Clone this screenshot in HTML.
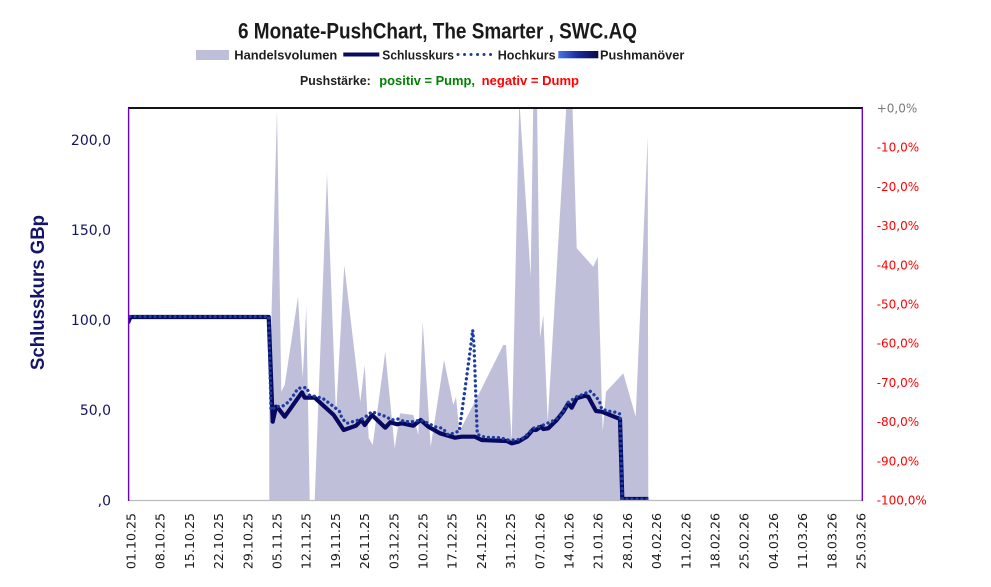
<!DOCTYPE html>
<html>
<head>
<meta charset="utf-8">
<style>
  html, body { margin:0; padding:0; background:#ffffff; }
  body { width:991px; height:587px; overflow:hidden; }
  svg { display:block; }
</style>
</head>
<body>
<svg width="991" height="587" viewBox="0 0 991 587" xmlns="http://www.w3.org/2000/svg">
  <defs>
    <linearGradient id="pg" x1="0" y1="0" x2="1" y2="0">
      <stop offset="0" stop-color="#4a74e6"/>
      <stop offset="0.5" stop-color="#1a2a9a"/>
      <stop offset="1" stop-color="#0a0a45"/>
    </linearGradient>
    <clipPath id="plot">
      <rect x="129" y="108" width="733" height="393"/>
    </clipPath>
  </defs>

  <rect x="0" y="0" width="991" height="587" fill="#ffffff"/>

  <!-- Title -->
  <text x="238" y="38.3" font-family="Liberation Sans, sans-serif" font-weight="bold" font-size="22" fill="#1a1a1a" textLength="399" lengthAdjust="spacingAndGlyphs">6 Monate-PushChart, The Smarter , SWC.AQ</text>

  <!-- Legend -->
  <g font-family="Liberation Sans, sans-serif" font-weight="bold" font-size="13" fill="#1f1f1f">
    <rect x="196" y="50" width="33" height="10" fill="#bfbfda"/>
    <text x="234.3" y="59.3" textLength="103" lengthAdjust="spacingAndGlyphs">Handelsvolumen</text>
    <line x1="343.3" y1="54.5" x2="379.3" y2="54.5" stroke="#0a0a60" stroke-width="4"/>
    <text x="382.3" y="59.3" textLength="71.7" lengthAdjust="spacingAndGlyphs">Schlusskurs</text>
    <line x1="458" y1="54.5" x2="493.3" y2="54.5" stroke="#1c3ca0" stroke-width="3" stroke-linecap="round" stroke-dasharray="0.01 6.5"/>
    <text x="497.7" y="59.3" textLength="58" lengthAdjust="spacingAndGlyphs">Hochkurs</text>
    <rect x="558.3" y="51" width="40" height="7.3" fill="url(#pg)"/>
    <text x="600" y="59.3" textLength="84.3" lengthAdjust="spacingAndGlyphs">Pushmanöver</text>
    <text x="300" y="85" textLength="70.7" lengthAdjust="spacingAndGlyphs">Pushstärke:</text>
    <text x="379.3" y="85" fill="#008000" textLength="95.7" lengthAdjust="spacingAndGlyphs">positiv = Pump,</text>
    <text x="481.7" y="85" fill="#ff0000" textLength="97.3" lengthAdjust="spacingAndGlyphs">negativ = Dump</text>
  </g>

  <!-- Plot data -->
  <g clip-path="url(#plot)">
    <!-- Volume area -->
    <polygon fill="#bfbfda" points="269.3,500 269.3,395 277,110 281.3,391.7 284.7,385 298,296.7 302.7,378 306.3,306.7 309.7,500 314.7,500 327,173.3 336,415 344.3,265 360.3,401.7 364.7,365 368.7,438 372.7,445 385.3,351.7 394.7,448.3 400,413.3 413.3,415 418.3,435 422.7,321.7 430.7,446.7 444,360 453.3,405 456,396.7 459.3,431.7 480,391.7 503.3,345 506,345 511.7,441.7 519.3,100 530.7,276.7 533.3,100 537,100 540,338.3 543.3,315 547.7,421.7 566.7,100 572.3,100 576.7,248.3 593.3,266.7 597.7,256.7 602.7,431.7 606,391.7 623.3,373.3 635.7,416.7 647.7,136.7 648.3,501 269.3,501"/>

    <!-- Schlusskurs -->
    <polyline fill="none" stroke="#080860" stroke-width="4.2" stroke-linejoin="round" points="128,323 130,318 131.5,317 268.7,317 272.7,421.7 276,406.7 278,408 284.7,416.7 302,392.3 304.7,397.7 314.7,397.7 333.7,415 343.7,430 356,425.7 361.3,420 364.7,425 372,415 385.3,427.7 390.3,422.3 397,424.3 402,423.3 413.3,425.7 420.7,420 428.3,426.7 440,433.3 455,437.7 461.7,436.7 475,436.7 481.7,440 506.7,441 511.7,443.3 518.3,441.7 526.7,436.7 533,429.5 536,430 541,426.7 543.3,429 548.3,428.3 556.7,420 563.3,411.7 568.3,403.3 571.7,407.7 576.7,398.3 585,395.7 588.3,396.7 596,411 601.7,411.7 618.3,418.3 620,419 622.3,499 648.3,499"/>

    <!-- Hochkurs -->
    <polyline fill="none" stroke="#1c3ca0" stroke-width="3.3" stroke-linecap="round" stroke-linejoin="round" stroke-dasharray="0.01 5" points="130,316.5 268.7,316.5 271,410 276,406.7 283.7,405.7 288.7,401.7 293.7,395 298,388.3 303.7,387.7 307,387.7 309.3,395 322.7,398.3 328,402.3 339.3,411 342,418.3 347,423.3 354.7,421 362,419 367,415.7 372,411.7 379.3,414.3 386.3,416.7 391.3,420 398,419 405,421.7 413.3,421.7 420.7,420 428.3,423.3 435,426.7 442.7,428.3 448.3,435 459.3,431 466,381.7 470,351.7 472.7,330 474,345 475,371.7 476,401.7 477.3,434.3 485,437.3 500,437.7 508.3,440 516.7,440 524,437.7 533.3,428.3 541.7,425.7 555,420 561,415 568.3,402.3 576.7,396.7 583.3,394.3 590,391 595,395.7 599.3,401 601.7,409 607.7,411 615.7,412.3 620,414 622.3,499 648,499"/>
  </g>

  <!-- Frame -->
  <line x1="129" y1="500.5" x2="862" y2="500.5" stroke="#bdbdbd" stroke-width="1.3"/>
  <line x1="128" y1="108" x2="863" y2="108" stroke="#141414" stroke-width="2"/>
  <line x1="128.6" y1="108" x2="128.6" y2="501" stroke="#6a00d0" stroke-width="1.4"/>
  <line x1="862.3" y1="108" x2="862.3" y2="501" stroke="#6a00d0" stroke-width="1.4"/>

  <!-- Left axis title -->
  <text transform="translate(44,292.5) rotate(-90)" text-anchor="middle" font-family="Liberation Sans, sans-serif" font-weight="bold" font-size="19" fill="#14146a" textLength="155" lengthAdjust="spacingAndGlyphs">Schlusskurs GBp</text>

  <!-- Left ticks -->
  <g font-family="DejaVu Sans, sans-serif" font-size="14" fill="#15155e" text-anchor="end">
    <text x="111" y="145">200,0</text>
    <text x="111" y="235">150,0</text>
    <text x="111" y="325">100,0</text>
    <text x="111" y="415">50,0</text>
    <text x="111" y="505.5">,0</text>
  </g>

  <!-- Right ticks -->
  <g font-family="DejaVu Sans, sans-serif" font-size="12" fill="#ff0000">
    <text x="876.7" y="112.5" fill="#7a7a7a">+0,0%</text>
    <text x="876.7" y="151.7">-10,0%</text>
    <text x="876.7" y="190.9">-20,0%</text>
    <text x="876.7" y="230.1">-30,0%</text>
    <text x="876.7" y="269.3">-40,0%</text>
    <text x="876.7" y="308.5">-50,0%</text>
    <text x="876.7" y="347.7">-60,0%</text>
    <text x="876.7" y="386.9">-70,0%</text>
    <text x="876.7" y="426.1">-80,0%</text>
    <text x="876.7" y="465.3">-90,0%</text>
    <text x="876.7" y="504.5">-100,0%</text>
  </g>

  <!-- X labels -->
  <g font-family="DejaVu Sans, sans-serif" font-size="12.6" fill="#1a1a1a" text-anchor="end">
    <text transform="translate(135.5,513) rotate(-90)">01.10.25</text>
    <text transform="translate(164.7,513) rotate(-90)">08.10.25</text>
    <text transform="translate(193.9,513) rotate(-90)">15.10.25</text>
    <text transform="translate(223.1,513) rotate(-90)">22.10.25</text>
    <text transform="translate(252.3,513) rotate(-90)">29.10.25</text>
    <text transform="translate(281.5,513) rotate(-90)">05.11.25</text>
    <text transform="translate(310.7,513) rotate(-90)">12.11.25</text>
    <text transform="translate(339.9,513) rotate(-90)">19.11.25</text>
    <text transform="translate(369.1,513) rotate(-90)">26.11.25</text>
    <text transform="translate(398.3,513) rotate(-90)">03.12.25</text>
    <text transform="translate(427.5,513) rotate(-90)">10.12.25</text>
    <text transform="translate(456.7,513) rotate(-90)">17.12.25</text>
    <text transform="translate(485.9,513) rotate(-90)">24.12.25</text>
    <text transform="translate(515.1,513) rotate(-90)">31.12.25</text>
    <text transform="translate(544.3,513) rotate(-90)">07.01.26</text>
    <text transform="translate(573.5,513) rotate(-90)">14.01.26</text>
    <text transform="translate(602.7,513) rotate(-90)">21.01.26</text>
    <text transform="translate(631.9,513) rotate(-90)">28.01.26</text>
    <text transform="translate(661.1,513) rotate(-90)">04.02.26</text>
    <text transform="translate(690.3,513) rotate(-90)">11.02.26</text>
    <text transform="translate(719.5,513) rotate(-90)">18.02.26</text>
    <text transform="translate(748.7,513) rotate(-90)">25.02.26</text>
    <text transform="translate(777.9,513) rotate(-90)">04.03.26</text>
    <text transform="translate(807.1,513) rotate(-90)">11.03.26</text>
    <text transform="translate(836.3,513) rotate(-90)">18.03.26</text>
    <text transform="translate(865.5,513) rotate(-90)">25.03.26</text>
  </g>
</svg>
</body>
</html>
